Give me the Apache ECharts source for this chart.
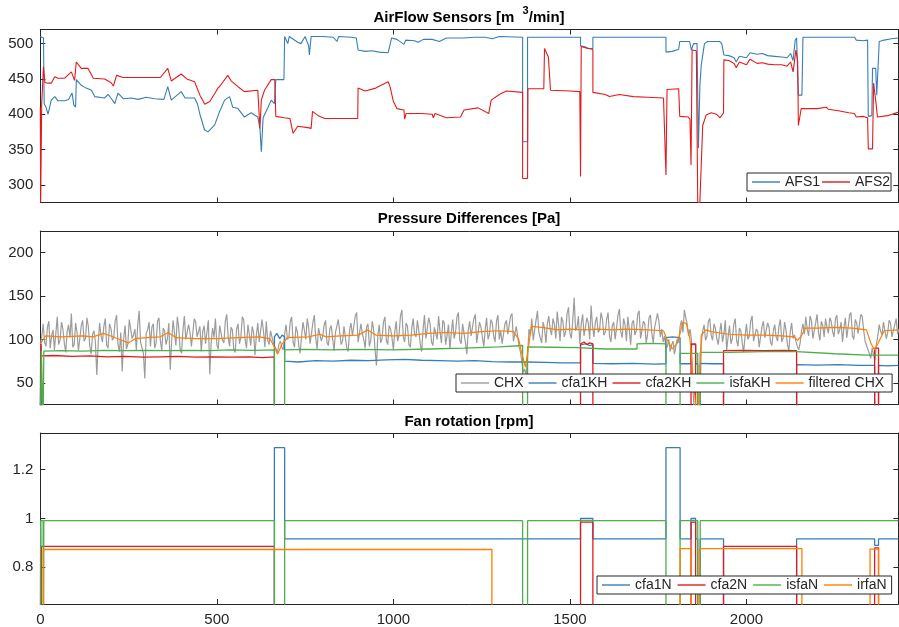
<!DOCTYPE html>
<html>
<head>
<meta charset="utf-8">
<script src="https://cdn.jsdelivr.net/npm/echarts@6/dist/echarts.min.js"></script>
<style>
html, body { margin: 0; padding: 0; background: #fff; }
#chart { width: 899px; height: 627px; }
</style>
</head>
<body>
<div id="chart"></div>
<script>
// ---- axis ticks ----
const xTicks = [0, 500, 1000, 1500, 2000];
const afsTicks = [300, 350, 400, 450, 500];
const dpTicks = [50, 100, 150, 200];
const fanTicks = [0.8, 1, 1.2];

// ---- AirFlow sensors [time, m3/min] ----
const afs1 = [[0,510],[5,511],[9,508],[11,415],[16,410],[22,400],[31,420],[41,425],[50,419],[69,419],[80,421],[90,430],[95,413],[100,410],[102,449],[116,441],[130,437],[145,434],[154,425],[182,423],[192,428],[200,423],[211,415],[220,430],[235,422],[258,423],[277,421],[300,424],[324,422],[350,421],[361,439],[371,420],[399,432],[410,423],[437,423],[445,415],[452,400],[465,378],[475,375],[494,385],[508,404],[522,420],[536,425],[545,410],[560,408],[578,396],[597,402],[616,396],[622,380],[626,347],[631,395],[645,410],[654,420],[663,415],[667,449],[690,449],[692,510],[701,500],[705,510],[729,502],[738,500],[750,510],[760,497],[762,484],[767,510],[800,510],[830,509],[840,503],[845,510],[880,509],[895,508],[900,491],[920,489],[940,490],[960,488],[985,487],[995,508],[1010,506],[1030,499],[1035,505],[1060,504],[1070,502],[1085,506],[1110,506],[1130,503],[1150,508],[1200,508],[1230,509],[1260,509],[1280,507],[1300,510],[1366,509],[1366,361],[1380,361],[1380,509],[1530,509],[1530,497],[1545,495],[1553,493],[1565,493],[1565,509],[1772,509],[1772,488],[1790,489],[1808,492],[1811,503],[1839,503],[1844,491],[1850,500],[1860,500],[1864,352],[1868,440],[1872,470],[1881,500],[1890,503],[1924,503],[1930,500],[1936,484],[1950,483],[1965,480],[1971,474],[1980,482],[2000,480],[2010,487],[2030,485],[2045,486],[2060,483],[2080,482],[2100,481],[2115,480],[2125,486],[2132,476],[2138,505],[2142,508],[2147,427],[2157,427],[2160,509],[2306,509],[2311,505],[2330,504],[2343,505],[2345,397],[2355,398],[2357,465],[2366,465],[2369,427],[2376,503],[2390,505],[2410,507],[2430,508]];
const afs2 = [[0,410],[1,275],[3,275],[4,415],[9,467],[13,445],[22,444],[31,444],[41,453],[50,451],[69,451],[88,460],[97,448],[102,474],[116,465],[135,465],[150,451],[182,450],[200,445],[207,440],[216,455],[235,452],[258,452],[300,452],[340,452],[361,465],[371,447],[399,457],[415,450],[437,446],[452,427],[466,414],[480,418],[495,430],[503,437],[509,440],[531,455],[541,447],[560,439],[578,432],[616,434],[622,380],[626,420],[635,434],[654,449],[664,449],[667,397],[690,395],[707,394],[716,373],[729,383],[758,381],[767,380],[771,404],[790,397],[806,394],[830,394],[870,394],[899,394],[900,437],[920,433],[950,437],[985,446],[990,440],[1000,418],[1010,408],[1030,406],[1032,393],[1036,401],[1080,401],[1110,400],[1113,395],[1118,401],[1150,395],[1190,396],[1200,406],[1240,409],[1270,401],[1277,420],[1300,428],[1320,433],[1366,431],[1366,309],[1380,309],[1381,436],[1426,436],[1428,493],[1439,481],[1445,434],[1500,433],[1528,432],[1530,312],[1532,496],[1550,493],[1565,492],[1565,431],[1600,428],[1612,425],[1640,428],[1680,425],[1720,424],[1765,423],[1770,422],[1772,314],[1775,435],[1808,436],[1811,397],[1835,396],[1840,393],[1843,328],[1846,491],[1858,490],[1862,275],[1868,275],[1876,384],[1886,399],[1900,402],[1915,400],[1925,395],[1935,402],[1936,477],[1950,476],[1965,472],[1971,466],[1980,474],[2000,470],[2010,478],[2030,472],[2045,473],[2060,471],[2080,470],[2100,470],[2115,468],[2125,474],[2132,460],[2140,491],[2145,475],[2147,384],[2155,408],[2200,408],[2226,410],[2232,407],[2260,405],[2290,402],[2306,401],[2311,396],[2330,397],[2343,395],[2345,351],[2357,351],[2360,444],[2366,420],[2371,396],[2400,398],[2430,403]];

// ---- pressure differences [Pa] ----
const chxDt = 4; // CHX sample spacing
const chx = [
  95,103,118,97,92,114,121,90,104,111,88,107,126,94,99,120,112,96,85,109,117,102,130,91,94,119,108,87,89,116,122,98,101,125,115,93,83,106,110,97,
  59,96,119,104,97,115,124,93,90,118,113,99,102,121,128,95,86,108,63,100,116,89,95,123,121,101,105,112,88,117,133,97,98,84,55,107,111,120,92,114,
  118,90,96,121,125,99,87,113,110,94,101,119,65,98,122,108,93,126,114,89,84,111,127,100,99,117,108,92,91,124,120,103,104,115,86,109,116,95,97,122,
  60,97,113,102,124,94,89,116,107,99,96,121,129,103,92,114,111,88,85,112,118,95,102,126,123,100,90,117,106,93,115,108,82,105,119,97,98,123,110,91,
  121,99,94,110,112,96,92,89,85,95,98,91,88,106,117,100,103,121,126,97,91,115,109,93,84,104,120,110,100,124,114,95,96,119,128,102,89,113,111,98,
  104,117,122,96,93,112,116,101,87,108,110,123,125,94,98,115,113,90,86,111,119,104,102,127,131,97,95,118,107,100,90,114,118,92,99,121,112,88,70,105,
  117,96,101,120,126,99,94,116,112,102,88,109,121,98,105,127,134,103,97,119,115,94,91,113,124,106,103,122,110,95,86,111,128,101,100,125,118,97,93,114,
  113,100,127,109,96,122,119,94,104,117,89,107,123,101,108,126,131,99,95,118,116,97,83,110,121,104,102,124,129,96,98,120,114,103,92,111,125,100,106,123,
  119,104,97,121,128,100,110,95,93,118,122,106,104,127,130,98,99,115,116,92,85,74,62,66,58,80,112,105,124,99,101,122,133,108,107,96,120,113,96,118,
  127,112,105,124,118,101,132,117,98,126,121,103,109,130,137,107,101,122,148,110,114,127,95,118,129,104,106,125,119,100,139,115,103,120,126,108,111,131,124,105,
  108,123,131,104,97,116,120,100,113,128,135,109,102,124,117,98,126,112,94,119,122,105,110,129,133,101,99,121,118,96,106,125,128,107,96,114,115,130,121,103,
  112,97,104,89,92,100,86,94,98,83,84,101,96,115,122,108,134,125,118,104,112,100,45,20,10,3,5,8,96,110,117,99,103,121,124,105,99,118,113,101,
  94,108,119,97,106,122,88,103,116,95,101,117,124,99,92,113,110,96,85,104,118,100,104,121,127,98,96,112,109,91,89,115,121,102,100,119,114,97,93,110,
  117,103,98,115,123,97,102,120,111,94,87,109,119,101,105,98,92,88,96,110,118,106,126,112,104,127,122,101,110,119,129,108,99,121,116,103,124,114,107,125,
  121,109,103,124,128,106,111,120,97,113,125,102,114,128,131,104,100,123,119,107,108,129,126,110,98,93,88,84,78,90,82,76,95,104,117,109,105,120,122,101,
  108,122,119,103,101,117,124,106,112
];
const cfa1KH = [[0,0],[1,98],[4,98],[5,0],[663,0],[663,103],[670,107],[678,101],[685,105],[692,103],[692,75],[730,74],[780,75.5],[830,75],[880,76],[930,75.5],[980,76.5],[1030,77],[1080,76],[1130,75.5],[1180,75],[1230,75.5],[1280,74.5],[1330,74],[1380,74],[1430,73.5],[1480,73],[1530,73],[1530,94],[1545,95],[1555,93],[1565,94],[1565,72.5],[1620,72],[1680,72.5],[1740,71.5],[1772,72],[1772,102],[1790,103],[1812,102],[1812,72],[1843,72],[1843,94],[1856,94],[1856,72],[1862,72],[1862,0],[1869,0],[1869,72.5],[1900,72],[1935,72],[1935,0],[2142,0],[2142,71],[2200,70.5],[2260,71],[2320,70],[2363,70],[2363,0],[2374,0],[2374,70],[2400,69.5],[2430,70]];
const cfa2KH = [[0,0],[2,0],[2,95],[3,81],[40,81.5],[90,80.5],[140,81],[190,80],[240,80.5],[290,79.5],[340,80],[390,80.5],[440,79.5],[490,80],[540,79.5],[590,80],[630,79],[663,80],[663,0],[1530,0],[1530,95],[1540,97],[1548,94],[1556,96],[1565,95],[1565,0],[1843,0],[1843,95],[1856,95],[1856,0],[1935,0],[1935,87],[1990,87.5],[2050,87],[2100,87.5],[2142,87],[2142,0],[2363,0],[2363,90],[2374,90],[2374,0],[2430,0]];
const isfaKH = [[0,0],[3,0],[3,87],[8,87],[8,0],[10,0],[10,86.5],[60,87],[120,86.5],[180,87.5],[240,87],[300,87.5],[360,87],[420,87.5],[480,87],[540,88],[600,87.5],[663,88],[663,0],[692,0],[692,88],[750,88.5],[820,88],[900,88.5],[1000,88],[1100,89],[1200,90],[1300,91.5],[1366,93],[1366,0],[1380,0],[1380,91.5],[1450,91],[1520,90.5],[1600,89],[1690,89],[1690,95],[1730,95.5],[1772,95],[1772,0],[1812,0],[1812,84],[1862,84],[1862,0],[1869,0],[1869,85],[1950,85],[2050,86],[2142,86],[2142,84],[2250,83.5],[2340,82],[2430,82]];
const chxFiltered = [[0,95],[15,104],[60,103],[120,104],[150,103],[178,107],[200,104],[230,99],[249,96],[270,101],[300,102],[340,103],[362,108],[385,102],[440,101],[500,101],[560,102],[620,103],[650,101],[662,92],[672,83],[685,95],[700,102],[760,103],[791,106],[810,103],[850,104],[900,105],[928,111],[950,105],[1000,104],[1050,105],[1100,107],[1150,108],[1200,107],[1250,109],[1300,110],[1340,109],[1355,100],[1366,80],[1374,68],[1382,90],[1391,115],[1420,114],[1466,111],[1500,112],[1542,111],[1580,112],[1617,111],[1660,112],[1720,111],[1765,110],[1775,100],[1790,89],[1805,96],[1820,120],[1830,118],[1840,100],[1848,60],[1856,25],[1864,20],[1872,105],[1885,111],[1900,109],[1950,106],[2000,105],[2050,105],[2100,104],[2135,103],[2145,99],[2155,104],[2167,113],[2200,113],[2250,114],[2300,113],[2340,111],[2352,96],[2362,88],[2372,95],[2390,110],[2430,111]];

// ---- fan rotation [rpm] ----
const cfa1N = [[0,0],[1,0.99],[4,0.99],[5,0],[663,0],[663,1.29],[692,1.29],[692,0.917],[1530,0.917],[1530,1.0],[1565,1.0],[1565,0.917],[1772,0.917],[1772,1.29],[1812,1.29],[1812,0.917],[1843,0.917],[1843,1.0],[1856,1.0],[1856,0.917],[1862,0.917],[1862,0],[1869,0],[1869,0.917],[1935,0.917],[1935,0],[2142,0],[2142,0.917],[2363,0.917],[2363,0.89],[2374,0.89],[2374,0.917],[2430,0.917]];
const cfa2N = [[0,0],[3,0],[3,0.886],[663,0.886],[663,0],[1530,0],[1530,0.985],[1565,0.985],[1565,0],[1843,0],[1843,0.985],[1856,0.985],[1856,0],[1935,0],[1935,0.886],[2142,0.886],[2142,0],[2363,0],[2363,0.88],[2374,0.88],[2374,0],[2430,0]];
const isfaN = [[0,0],[1,0.991],[8,0.991],[8,0],[10,0],[10,0.991],[663,0.991],[663,0],[692,0],[692,0.991],[1366,0.991],[1366,0],[1380,0],[1380,0.991],[1772,0.991],[1772,0],[1812,0],[1812,0.991],[1862,0.991],[1862,0],[1869,0],[1869,0.991],[2430,0.991]];
const irfaN = [[0,0],[9,0],[9,0.873],[1279,0.873],[1279,0],[1812,0],[1812,0.877],[1843,0.877],[1843,0],[1867,0],[1867,0.877],[2157,0.877],[2157,0],[2350,0],[2350,0.875],[2374,0.875],[2374,0],[2430,0]];

const X_MAX = 2430;
const FONT = "'Liberation Sans', Arial, Helvetica, sans-serif";
const AX = '#262626';
const C = { blue: '#377eb8', red: '#e41a1c', green: '#4daf4a', orange: '#ff7f00', gray: '#9c9c9c' };

const grids = [
  { left: 40.3, top: 29.5, width: 858, height: 173 },
  { left: 40.3, top: 231, width: 858, height: 173.5 },
  { left: 40.3, top: 433, width: 858, height: 173 }
];
const yDefs = [
  { min: 275, max: 520, ticks: afsTicks },
  { min: 25, max: 225, ticks: dpTicks },
  { min: 0.65, max: 1.35, ticks: fanTicks }
];

const plain = v => String(v);

function xAxis(g, pos, labels) {
  return {
    type: 'value', gridIndex: g, position: pos, min: 0, max: X_MAX,
    axisLine: { show: true, onZero: false, lineStyle: { color: AX, width: 1 } },
    axisTick: { show: true, inside: true, length: 5, customValues: xTicks, lineStyle: { color: AX } },
    axisLabel: { show: labels, customValues: xTicks, formatter: plain, color: AX, fontSize: 15, fontFamily: FONT, margin: 8 },
    splitLine: { show: false }
  };
}
function yAxis(g, pos, labels) {
  const d = yDefs[g];
  return {
    type: 'value', gridIndex: g, position: pos, min: d.min, max: d.max,
    axisLine: { show: true, onZero: false, lineStyle: { color: AX, width: 1 } },
    axisTick: { show: true, inside: true, length: 5, customValues: d.ticks, lineStyle: { color: AX } },
    axisLabel: { show: labels, customValues: d.ticks, formatter: plain, color: AX, fontSize: 15, fontFamily: FONT, margin: 7 },
    splitLine: { show: false }
  };
}

const xAxes = [], yAxes = [];
for (let g = 0; g < 3; g++) {
  xAxes.push(xAxis(g, 'bottom', g === 2));
  xAxes.push(xAxis(g, 'top', false));
  yAxes.push(yAxis(g, 'left', true));
  yAxes.push(yAxis(g, 'right', false));
}

function line(name, g, data, color, width) {
  return {
    type: 'line', name, xAxisIndex: 2 * g, yAxisIndex: 2 * g, data,
    symbol: 'none', showSymbol: false, clip: true,
    lineStyle: { color, width: width || 1.1 }, itemStyle: { color },
    emphasis: { disabled: true }
  };
}

const series = [
  line('AFS1', 0, afs1, C.blue),
  line('AFS2', 0, afs2, C.red),
  line('CHX', 1, chx.map((v, i) => [i * chxDt, v]), C.gray, 1.2),
  line('cfa1KH', 1, cfa1KH, C.blue, 1.3),
  line('cfa2KH', 1, cfa2KH, C.red, 1.3),
  line('isfaKH', 1, isfaKH, C.green, 1.3),
  line('filtered CHX', 1, chxFiltered, C.orange, 1.2),
  line('cfa1N', 2, cfa1N, C.blue, 1.3),
  line('cfa2N', 2, cfa2N, C.red, 1.3),
  line('isfaN', 2, isfaN, C.green, 1.3),
  line('irfaN', 2, irfaN, C.orange, 1.3)
];

function legend(names, left, top, gap, pad) {
  return {
    data: names, left, top, orient: 'horizontal', width: 500,
    icon: 'rect', itemWidth: 28, itemHeight: 1.4, itemGap: gap,
    padding: pad, borderColor: AX, borderWidth: 1, borderRadius: 0, backgroundColor: '#fff',
    selectedMode: false,
    textStyle: { fontSize: 14, fontFamily: FONT, color: AX }
  };
}

function title(text, y) {
  return {
    type: 'text', x: 469, y,
    style: { text, align: 'center', verticalAlign: 'middle', fontSize: 15, fontWeight: 'bold', fontFamily: FONT, fill: '#000' }
  };
}

const chart = echarts.init(document.getElementById('chart'), null, { renderer: 'canvas' });
chart.setOption({
  animation: false,
  backgroundColor: '#fff',
  grid: grids,
  xAxis: xAxes,
  yAxis: yAxes,
  legend: [
    legend(['AFS1', 'AFS2'], 747, 173, 2, [2, 1, 2, 5]),
    legend(['CHX', 'cfa1KH', 'cfa2KH', 'isfaKH', 'filtered CHX'], 456, 374, 5, [2, 8, 2, 5]),
    legend(['cfa1N', 'cfa2N', 'isfaN', 'irfaN'], 597, 576, 6, [2, 5, 2, 5])
  ],
  graphic: [
    {
      type: 'text', x: 469, y: 15,
      style: {
        text: '{t|AirFlow Sensors [m  }{s|3}{t|/min]}',
        align: 'center', verticalAlign: 'middle',
        rich: {
          t: { fontSize: 15, fontWeight: 'bold', fontFamily: FONT, fill: '#000', lineHeight: 20, verticalAlign: 'bottom' },
          s: { fontSize: 11, fontWeight: 'bold', fontFamily: FONT, fill: '#000', lineHeight: 11, verticalAlign: 'top' }
        }
      }
    },
    title('Pressure Differences [Pa]', 219),
    title('Fan rotation [rpm]', 421.5)
  ],
  series
});
</script>
</body>
</html>
